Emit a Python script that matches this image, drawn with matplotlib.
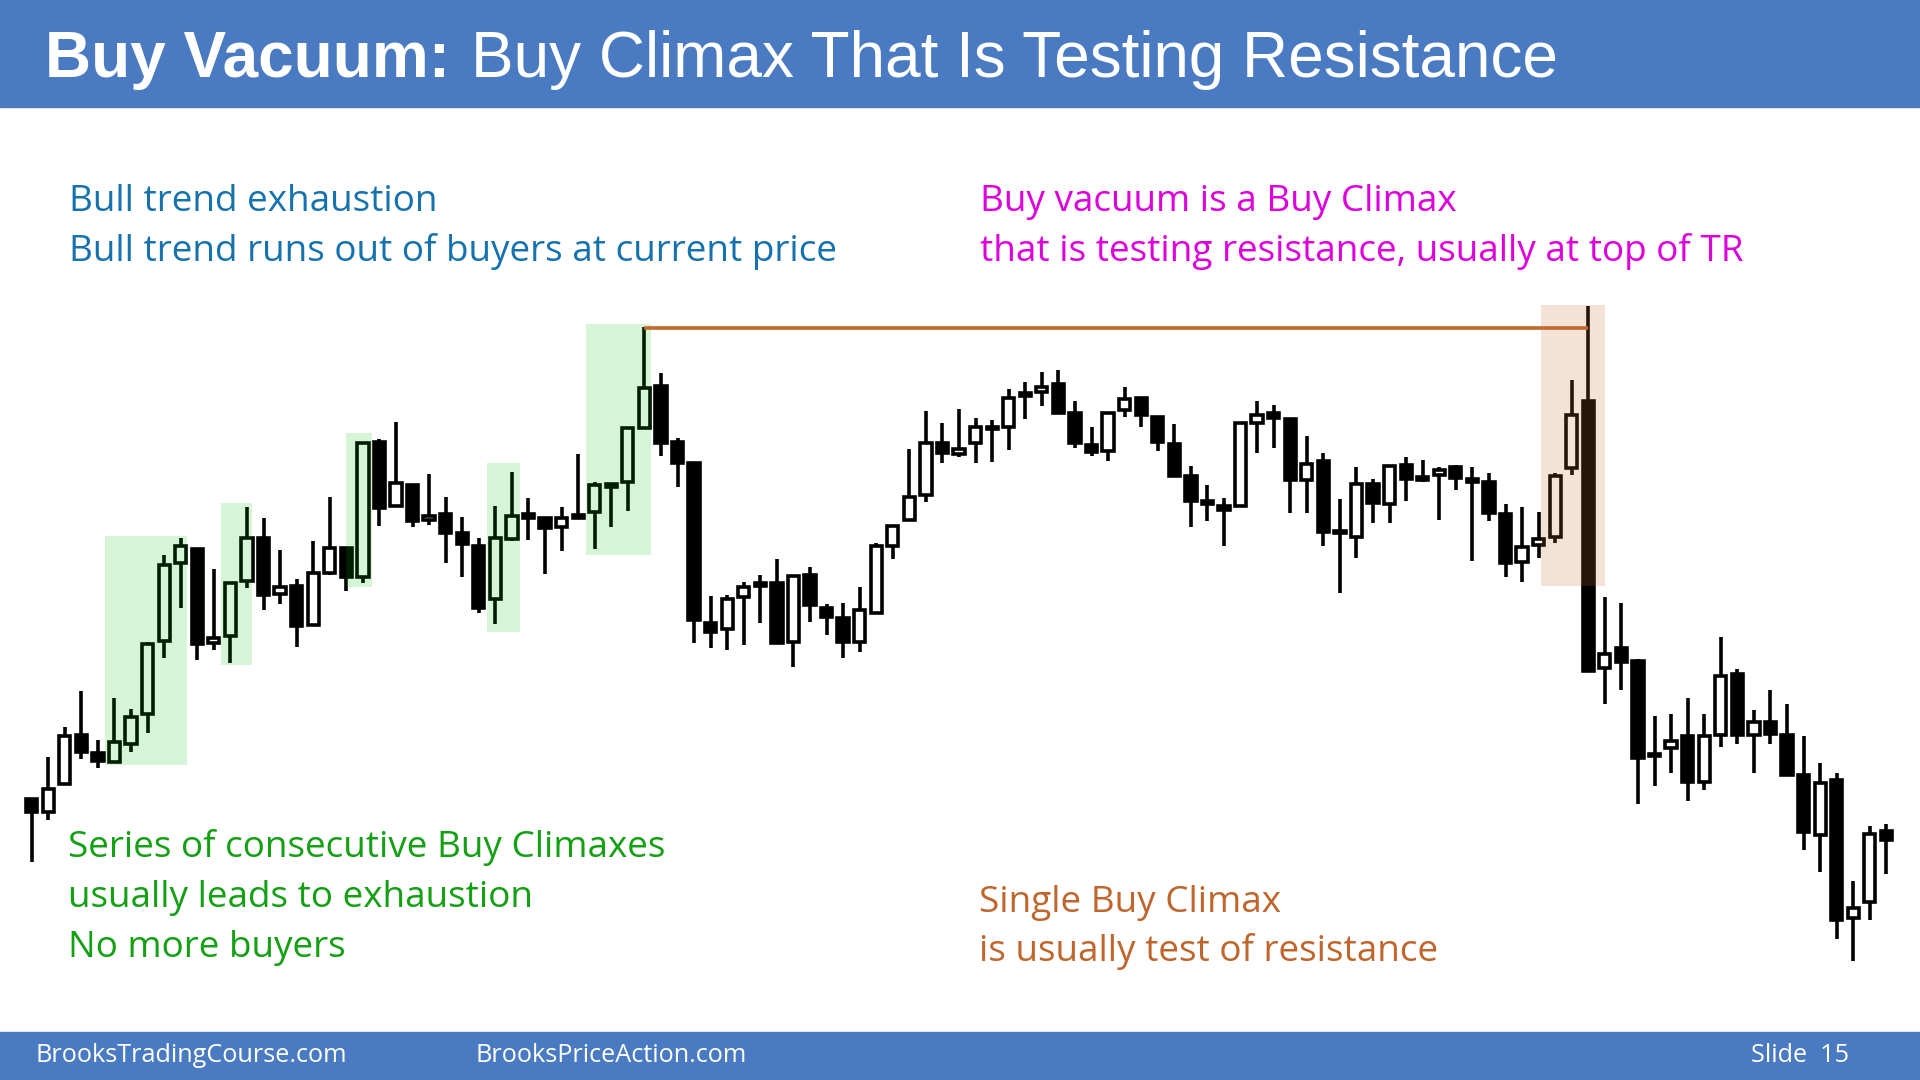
import matplotlib
matplotlib.use("Agg")
import matplotlib.pyplot as plt
from matplotlib.patches import Rectangle
import numpy as np

# OHLC (arbitrary price units)
opens = [201, 188, 216, 265, 247, 238, 256, 286, 359, 437, 451, 357, 364, 419, 462, 406, 414, 375, 427, 452,
         423, 558, 494, 515, 480, 486, 467, 454, 401, 461, 486, 482, 473, 485, 488, 513, 518, 572, 614, 558,
         537, 377, 371, 403, 417, 417, 358, 425, 392, 382, 358, 387, 454, 480, 505, 557, 546, 557, 573, 573,
         607, 608, 616, 587, 555, 549, 590, 602, 583, 556, 524, 499, 494, 494, 577, 587, 581, 520, 539, 469,
         463, 516, 496, 535, 523, 525, 533, 521, 518, 486, 438, 455, 463, 532, 599, 332, 352, 339, 246, 252,
         264, 218, 265, 326, 265, 278, 265, 225, 165, 220, 82, 98, 169]
highs = [201, 243, 273, 309, 260, 302, 291, 358, 445, 462, 451, 431, 417, 493, 482, 450, 421, 459, 503, 453,
         558, 561, 578, 515, 526, 503, 483, 462, 494, 528, 502, 482, 493, 546, 518, 517, 573, 673, 627, 562,
         538, 404, 405, 418, 425, 441, 424, 433, 396, 397, 413, 457, 475, 551, 589, 577, 591, 582, 580, 611,
         618, 628, 630, 599, 573, 587, 613, 602, 583, 576, 534, 515, 502, 577, 599, 595, 581, 564, 547, 501,
         533, 521, 534, 543, 540, 533, 535, 533, 527, 496, 493, 488, 527, 620, 694, 403, 397, 341, 284, 286,
         302, 286, 363, 331, 290, 310, 296, 264, 237, 227, 119, 174, 176]
lows = [138, 180, 215, 241, 232, 238, 248, 267, 342, 392, 340, 350, 337, 412, 390, 396, 353, 374, 425, 409,
        417, 474, 493, 473, 475, 437, 423, 387, 376, 459, 460, 426, 449, 481, 451, 473, 489, 571, 544, 513,
        357, 352, 350, 355, 377, 357, 333, 378, 365, 342, 348, 387, 441, 479, 498, 537, 543, 537, 538, 550,
        581, 594, 587, 552, 544, 539, 583, 573, 549, 524, 473, 479, 454, 493, 547, 552, 487, 487, 454, 407,
        442, 477, 477, 499, 518, 480, 510, 439, 479, 423, 418, 442, 457, 525, 329, 296, 310, 196, 214, 227,
        199, 210, 253, 256, 227, 256, 224, 150, 128, 61, 39, 80, 126]
closes = [188, 211, 264, 248, 239, 258, 283, 356, 435, 454, 356, 362, 417, 462, 405, 413, 374, 427, 452, 423,
          557, 492, 517, 479, 484, 467, 456, 392, 462, 484, 482, 472, 482, 482, 515, 516, 572, 612, 557, 537,
          380, 368, 401, 413, 414, 357, 424, 395, 383, 358, 390, 454, 474, 503, 557, 547, 551, 573, 571, 602,
          604, 613, 587, 557, 548, 587, 601, 585, 558, 524, 499, 496, 490, 577, 585, 582, 520, 536, 468, 467,
          516, 497, 534, 521, 520, 530, 522, 518, 487, 437, 453, 461, 524, 585, 329, 346, 338, 242, 244, 259,
          218, 264, 324, 265, 278, 266, 225, 168, 217, 80, 92, 166, 160]

# highlighted bar groups (bar index range, price range)
climax_x0 = [4.43, 11.43, 19.0, 27.5, 33.47]
climax_x1 = [9.36, 13.28, 20.57, 29.5, 37.4]
climax_lo = [235, 335, 413, 368, 445]
climax_hi = [464, 497, 567, 537, 676]
vacuum_x = [91.14, 95.0]
vacuum_y = [414, 695]
resistance = 672
resistance_x = [37, 94]

BLUE_BAR = "#4A7BC2"

fig = plt.figure(figsize=(19.2, 10.8), dpi=100)
ax = fig.add_axes([0, 0, 1, 1])
ax.set_xlim(-1.914, 114.03)
ax.set_ylim(-80, 1000)
ax.axis("off")

o = np.array(opens, float)
c = np.array(closes, float)
idx = np.arange(len(o))
bottoms = np.minimum(o, c)
heights = np.maximum(np.abs(c - o), 1.0)
colors = ["white" if cl >= op else "black" for op, cl in zip(o, c)]

ax.vlines(idx, lows, highs, color="black", lw=2.6, zorder=2)
ax.bar(idx, heights, bottom=bottoms, width=0.68, color=colors,
       edgecolor="black", linewidth=2.6, zorder=3)

for x0, x1, lo, hi in zip(climax_x0, climax_x1, climax_lo, climax_hi):
    ax.add_patch(Rectangle((x0, lo), x1 - x0, hi - lo, facecolor="#00be00",
                           alpha=0.16, lw=0, zorder=4))
ax.add_patch(Rectangle((vacuum_x[0], vacuum_y[0]), vacuum_x[1] - vacuum_x[0],
                       vacuum_y[1] - vacuum_y[0], facecolor="#c86e32",
                       alpha=0.2, lw=0, zorder=4))
ax.hlines(resistance, resistance_x[0], resistance_x[1], color="#C0692A", lw=2.6, zorder=5)


def fx(px):
    return px / 1920


def fy(py):
    return 1 - py / 1080


# header / footer bars
fig.patches.append(Rectangle((0, fy(107)), 1, 107 / 1080, transform=fig.transFigure,
                             color=BLUE_BAR, zorder=0))
fig.patches.append(Rectangle((0, 0), 1, 48 / 1080, transform=fig.transFigure,
                             color=BLUE_BAR, zorder=0))

t1 = fig.text(fx(45), fy(77), "Buy Vacuum:", color="white", fontsize=46,
              fontweight="bold", family="Liberation Sans", va="baseline")
r = fig.canvas.get_renderer()
bb = t1.get_window_extent(renderer=r)
fig.text((bb.x1 + 21) / 1920, fy(77), "Buy Climax That Is Testing Resistance",
         color="white", fontsize=46, family="Liberation Sans", va="baseline")

body = dict(fontsize=26.6, family="Open Sans", va="baseline")
fig.text(fx(69), fy(211), "Bull trend exhaustion", color="#1572AE", **body)
fig.text(fx(69), fy(261), "Bull trend runs out of buyers at current price", color="#1572AE", **body)
fig.text(fx(980), fy(211), "Buy vacuum is a Buy Climax", color="#DD00DD", **body)
fig.text(fx(980), fy(261), "that is testing resistance, usually at top of TR", color="#DD00DD", **body)
fig.text(fx(68), fy(857), "Series of consecutive Buy Climaxes", color="#13A013", **body)
fig.text(fx(68), fy(907), "usually leads to exhaustion", color="#13A013", **body)
fig.text(fx(68), fy(957), "No more buyers", color="#13A013", **body)
fig.text(fx(979), fy(912), "Single Buy Climax", color="#C0652B", **body)
fig.text(fx(979), fy(961), "is usually test of resistance", color="#C0652B", **body)

foot = dict(fontsize=18.2, family="Open Sans", va="center", color="white")
fig.text(fx(35), fy(1055), "BrooksTradingCourse.com", **foot)
fig.text(fx(475), fy(1055), "BrooksPriceAction.com", **foot)
fig.text(fx(1751), fy(1055), "Slide  15", **foot)

fig.savefig("out.png", dpi=100)
